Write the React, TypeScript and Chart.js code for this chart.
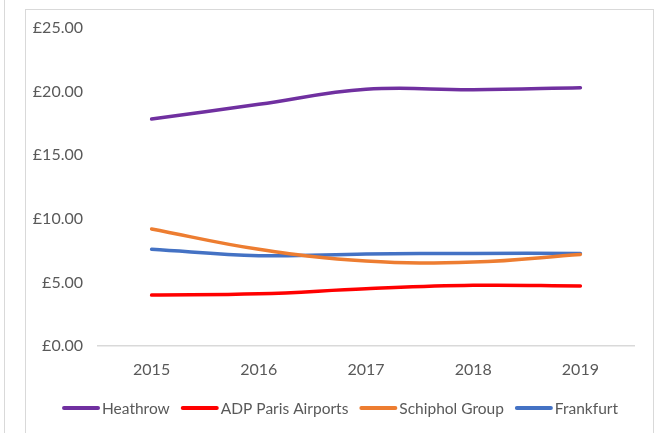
import React, { useEffect, useRef } from "react";
import { Chart, registerables } from "chart.js";

Chart.register(...registerables);

const years = ["2015", "2016", "2017", "2018", "2019"];
const heathrow = [17.85, 19.0, 20.18, 20.15, 20.3];
const adpParis = [4.0, 4.1, 4.5, 4.77, 4.72];
const schiphol = [9.2, 7.6, 6.68, 6.6, 7.2];
const frankfurt = [7.6, 7.1, 7.23, 7.28, 7.28];
const yTicks = [0, 5, 10, 15, 20, 25];

const FONT = "Lato, 'Liberation Sans', sans-serif";
const TEXT = "#595959";

const legendPlugin = {
  id: "customLegend",
  afterDraw(chart: any) {
    const ctx = chart.ctx as CanvasRenderingContext2D;
    const lineW = 38;
    const gapText = 2;
    const gapItem = 11;
    const fontSize = 15.5;
    const y = 408;
    const centerX = 340;
    ctx.save();
    ctx.font = `${fontSize}px ${FONT}`;
    const items = chart.data.datasets.map((d: any) => ({
      label: d.label as string,
      color: d.borderColor as string,
      w: ctx.measureText(d.label).width,
    }));
    const total =
      items.reduce((s: number, it: any) => s + lineW + gapText + it.w, 0) + gapItem * (items.length - 1);
    let x = centerX - total / 2;
    for (const it of items) {
      ctx.beginPath();
      ctx.strokeStyle = it.color;
      ctx.lineWidth = 4;
      ctx.lineCap = "round";
      ctx.moveTo(x + 2, y);
      ctx.lineTo(x + lineW - 2, y);
      ctx.stroke();
      ctx.fillStyle = TEXT;
      ctx.textBaseline = "middle";
      ctx.textAlign = "left";
      ctx.fillText(it.label, x + lineW + gapText, y + 0.5);
      x += lineW + gapText + it.w + gapItem;
    }
    ctx.restore();
  },
};

export default function App() {
  const ref = useRef<HTMLCanvasElement | null>(null);

  useEffect(() => {
    if (!ref.current) return;
    const mk = (label: string, data: number[], color: string) => ({
      label,
      data,
      borderColor: color,
      backgroundColor: color,
      borderWidth: 3.5,
      pointRadius: 0,
      tension: 0.4,
      borderCapStyle: "round" as const,
      fill: false,
    });
    const chart = new Chart(ref.current, {
      type: "line",
      data: {
        labels: years,
        datasets: [
          mk("Heathrow", heathrow, "#7030A0"),
          mk("ADP Paris Airports", adpParis, "#FF0000"),
          mk("Schiphol Group", schiphol, "#ED7D31"),
          mk("Frankfurt", frankfurt, "#4472C4"),
        ],
      },
      plugins: [legendPlugin],
      options: {
        animation: false,
        responsive: false,
        layout: { padding: { left: 25, right: 23, top: 28, bottom: 44 } },
        plugins: {
          tooltip: { enabled: false },
          legend: { display: false },
        },
        scales: {
          x: {
            offset: true,
            grid: { display: false, drawTicks: false },
            border: { display: true, color: "#d9d9d9", width: 1.5 },
            ticks: { color: TEXT, font: { family: FONT, size: 16 }, padding: 14 },
            afterFit: (s: any) => {
              s.height = 43;
            },
          },
          y: {
            min: 0,
            max: 25,
            grid: { display: false, drawTicks: false },
            border: { display: false },
            afterBuildTicks: (s: any) => {
              s.ticks = yTicks.map((v) => ({ value: v }));
            },
            ticks: {
              color: TEXT,
              font: { family: FONT, size: 16 },
              padding: 15,
              callback: (v: any) => "£" + Number(v).toFixed(2),
            },
            afterFit: (s: any) => {
              s.width = 73;
            },
          },
        },
      },
    });
    return () => chart.destroy();
  }, []);

  return (
    <div style={{ position: "fixed", left: 0, top: 0, width: 657, height: 433, background: "#fff", overflow: "hidden" }}>
      <div style={{ position: "absolute", left: 4, top: 0, width: 0, height: 433, borderLeft: "1px solid #d9d9d9" }} />
      <div
        style={{
          position: "absolute",
          left: 25,
          top: 9,
          width: 629,
          height: 440,
          border: "1px solid #d9d9d9",
          boxSizing: "border-box",
        }}
      />
      <canvas ref={ref} width={657} height={433} style={{ position: "absolute", left: 0, top: 0 }} />
    </div>
  );
}
